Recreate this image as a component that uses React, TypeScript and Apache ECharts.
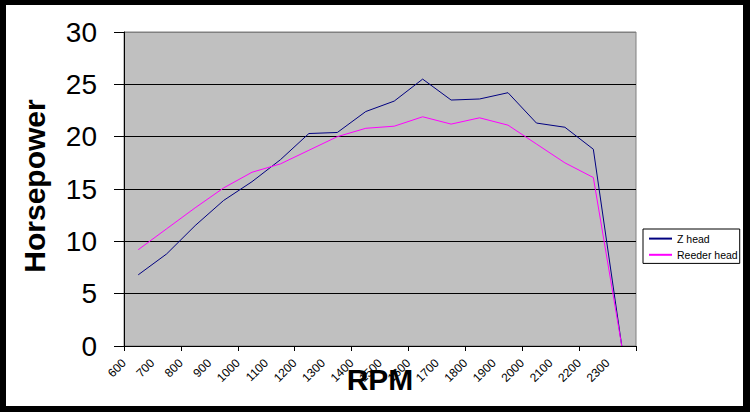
import React, { useEffect, useRef } from "react";
import * as echarts from "echarts";

const categories = ["600", "700", "800", "900", "1000", "1100", "1200", "1300", "1400", "1500", "1600", "1700", "1800", "1900", "2000", "2100", "2200", "2300"];
const tickLabels = ["600", "700", "800", "900", "1000", "1100", "1200", "1300", "1400", "1500", "1600", "1700", "1800", "1900", "2000", "2100", "2200", "2300", ""];
const zHead = [6.8, 8.8, 11.5, 13.9, 15.7, 17.8, 20.3, 20.4, 22.4, 23.4, 25.5, 23.5, 23.6, 24.2, 21.3, 20.9, 18.8, 0];
const reederHead = [9.2, 11.2, 13.2, 15.1, 16.6, 17.4, 18.7, 20.0, 20.8, 21.0, 21.9, 21.2, 21.8, 21.1, 19.3, 17.5, 16.1, 0];
const yTicks = [0, 5, 10, 15, 20, 25, 30];

const FONT = "'Liberation Sans', Arial, sans-serif";

export default function App() {
  const ref = useRef<HTMLDivElement>(null);

  useEffect(() => {
    if (!ref.current) return;
    const chart = echarts.init(ref.current, undefined, { renderer: "svg" });
    chart.setOption({
      animation: false,
      backgroundColor: "transparent",
      textStyle: { fontFamily: FONT },
      grid: {
        left: 118,
        top: 27,
        right: 107,
        bottom: 60,
        show: true,
        backgroundColor: "#C0C0C0",
        borderColor: "#808080",
        borderWidth: 1,
        containLabel: false,
      },
      legend: {
        orient: "vertical",
        left: 637,
        top: 224,
        padding: [4, 2, 3, 5],
        itemGap: 5,
        itemWidth: 23,
        itemHeight: 14,
        backgroundColor: "#ffffff",
        borderColor: "#000000",
        borderWidth: 1,
        borderRadius: 0,
        itemStyle: { opacity: 0 },
        textStyle: { fontSize: 10.5, color: "#000000", fontFamily: FONT },
        data: ["Z head", "Reeder head"],
      },
      xAxis: [
        {
          type: "category",
          data: categories,
          boundaryGap: true,
          axisLine: { show: true, lineStyle: { color: "#000000", width: 1 } },
          axisTick: { show: true, length: 5, alignWithLabel: false, lineStyle: { color: "#000000" } },
          axisLabel: { show: false },
          splitLine: { show: false },
        },
        {
          type: "category",
          data: tickLabels,
          boundaryGap: false,
          position: "bottom",
          axisLine: { show: false },
          axisTick: { show: false },
          splitLine: { show: false },
          axisLabel: {
            show: true,
            interval: 0,
            rotate: 45,
            margin: 15,
            fontSize: 12,
            color: "#000000",
            fontFamily: FONT,
          },
        },
      ],
      yAxis: {
        type: "value",
        min: 0,
        max: 30,
        interval: 5,
        axisLine: { show: true, lineStyle: { color: "#000000", width: 1 } },
        axisTick: { show: true, length: 10, lineStyle: { color: "#000000" } },
        axisLabel: {
          margin: 27,
          fontSize: 28,
          color: "#000000",
          fontFamily: FONT,
          formatter: (v: number) => (yTicks.includes(v) ? String(v) : ""),
        },
        splitLine: {
          show: true,
          lineStyle: {
            color: ["#000000", "#000000", "#000000", "#000000", "#000000", "#000000", "#808080"],
            width: 1,
          },
        },
      },
      graphic: [
        {
          type: "text",
          x: 374,
          y: 374,
          style: {
            text: "RPM",
            fontSize: 30,
            fontWeight: "bold",
            fontFamily: FONT,
            fill: "#000000",
            align: "center",
            verticalAlign: "middle",
          },
        },
        {
          type: "text",
          x: 28,
          y: 181,
          rotation: Math.PI / 2,
          style: {
            text: "Horsepower",
            fontSize: 30,
            fontWeight: "bold",
            fontFamily: FONT,
            fill: "#000000",
            align: "center",
            verticalAlign: "middle",
          },
        },
      ],
      series: [
        {
          name: "Z head",
          type: "line",
          xAxisIndex: 0,
          data: zHead,
          symbol: "none",
          showSymbol: false,
          lineStyle: { color: "#000080", width: 1 },
          itemStyle: { color: "#000080" },
        },
        {
          name: "Reeder head",
          type: "line",
          xAxisIndex: 0,
          data: reederHead,
          symbol: "none",
          showSymbol: false,
          lineStyle: { color: "#FF00FF", width: 1 },
          itemStyle: { color: "#FF00FF" },
        },
      ],
    });
    return () => chart.dispose();
  }, []);

  return (
    <div style={{ position: "fixed", left: 0, top: 0, width: 750, height: 412, background: "#000000" }}>
      <div style={{ position: "absolute", left: 6, top: 5, width: 737, height: 401, background: "#ffffff" }}>
        <div ref={ref} style={{ width: 737, height: 401 }} />
      </div>
    </div>
  );
}
